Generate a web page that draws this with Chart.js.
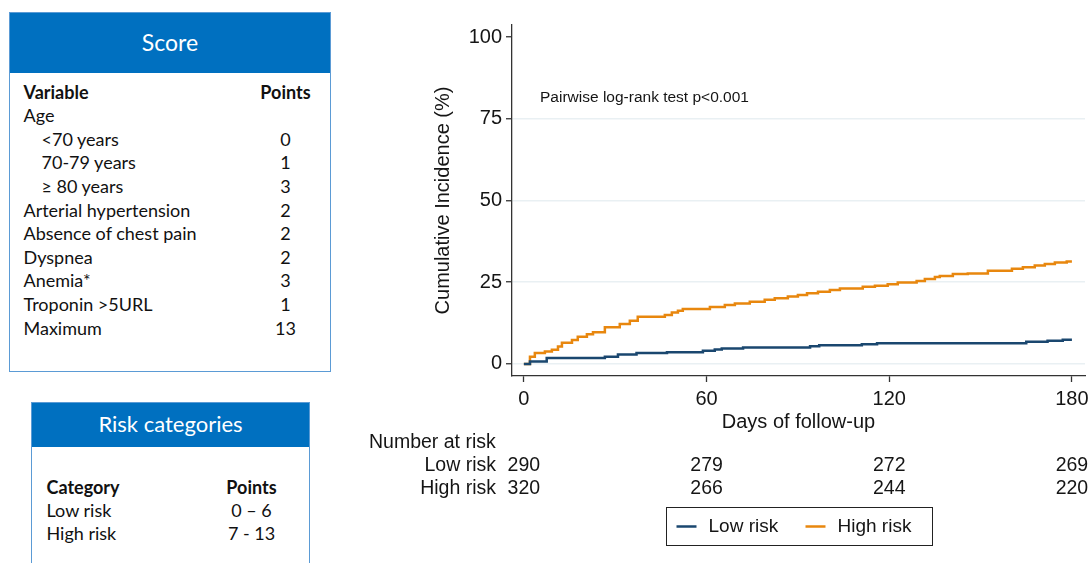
<!DOCTYPE html>
<html>
<head>
<meta charset="utf-8">
<script src="https://cdn.jsdelivr.net/npm/chart.js@4.4.1/dist/chart.umd.min.js"></script>
<style>
  html, body { margin: 0; padding: 0; background: #fff; width: 1091px; height: 563px; overflow: hidden; }
  .box { position: absolute; box-sizing: border-box; border: 1.5px solid #5b9bd5; background: #fff;
         font-family: Lato, "Open Sans", sans-serif; color: #111; }
  .hdr { position: absolute; left: 0; right: 0; top: 0; background: #0070c0; color: #fff;
         text-align: center; }
  .cell { position: absolute; font-size: 18px; line-height: 24px; height: 24px; white-space: nowrap; }
  .num { text-align: center; width: 60px; }
  .bold { font-weight: bold; }
  #chartWrap { position: absolute; left: 340px; top: 0; width: 751px; height: 563px; }
</style>
</head>
<body>
<div class="box" id="scoreBox" style="left:9px; top:12px; width:322px; height:360px;">
  <div class="hdr" style="height:60px; line-height:58px; font-size:23px;">Score</div>
</div>
<div class="box" id="riskBox" style="left:31px; top:402px; width:279px; height:200px;">
  <div class="hdr" style="height:44px; line-height:42px; font-size:22px;">Risk categories</div>
</div>
<div id="chartWrap"><canvas id="km" width="751" height="563"></canvas></div>

<script>
// ---- Score table ----
const ageBands = ['<70 years', '70-79 years', '\u2265 80 years'];
const agePoints = ['0', '1', '3'];
const otherVariables = ['Arterial hypertension', 'Absence of chest pain', 'Dyspnea', 'Anemia*', 'Troponin >5URL', 'Maximum'];
const otherPoints = ['2', '2', '2', '3', '1', '13'];

// ---- Risk categories ----
const riskCategories = ['Low risk', 'High risk'];
const riskPointRanges = ['0 \u2013 6', '7 - 13'];

// ---- Cumulative incidence (%) by day of follow-up ----
const lowRiskDays = [0, 2, 7.5, 26.6, 30.9, 37, 47, 58.8, 62.7, 65, 72, 94, 97, 111, 116, 165, 172, 177, 180];
const lowRiskIncidence = [0, 0.7, 1.8, 2.2, 2.9, 3.3, 3.6, 4.0, 4.4, 4.7, 5.0, 5.4, 5.7, 6.0, 6.3, 6.8, 7.1, 7.4, 7.4];

const highRiskDays = [0, 2, 3.6, 6.9, 9.2, 11.2, 12.5, 15.8, 17.7, 20.7, 22.7, 26.6, 31.5, 34.8, 37.4, 46.3, 48.6, 50.6,
  52.2, 61.1, 66, 69.3, 74.2, 79.1, 82.4, 86.7, 90, 93, 96.6, 100.5, 103.8, 111.3, 115.3, 119.5, 122.8, 129, 131.7,
  135, 136.6, 140.9, 145.8, 152.4, 160.3, 163.9, 167.8, 171.1, 174.4, 178.3, 180];
const highRiskIncidence = [0, 2.2, 3.3, 3.8, 4.3, 5.3, 6.5, 7.3, 8.3, 9.1, 9.7, 11.2, 12.2, 13.2, 14.4, 15.0, 15.7, 16.3,
  16.8, 17.4, 18.0, 18.5, 19.0, 19.6, 20.1, 20.6, 21.1, 21.6, 22.1, 22.6, 23.1, 23.6, 23.9, 24.4, 24.9, 25.4, 26.0,
  26.6, 26.9, 27.5, 27.7, 28.5, 29.1, 29.6, 30.1, 30.6, 31.0, 31.3, 31.3];

// ---- Axes and number at risk ----
const dayTicks = [0, 60, 120, 180];
const incidenceTicks = [0, 25, 50, 75, 100];
const riskTableDays = [0, 60, 120, 180];
const lowRiskAtRisk = [290, 279, 272, 269];
const highRiskAtRisk = [320, 266, 244, 220];
const testLabel = 'Pairwise log-rank test p<0.001';

const LOW_COLOR = '#1a476f';
const HIGH_COLOR = '#e8870e';
const INK = '#151515';
const SANS = '"Liberation Sans", Arial, sans-serif';

// Build the two side tables
function addCell(parent, text, left, centerY, cls) {
  const d = document.createElement('div');
  d.className = 'cell ' + (cls || '');
  d.textContent = text;
  d.style.left = left + 'px';
  d.style.top = (centerY - 12) + 'px';
  parent.appendChild(d);
  return d;
}
(function buildScore() {
  const box = document.getElementById('scoreBox');
  const ox = 10.5, oy = 13.5;               // inner origin of the box
  const rowY = i => 92 + i * 23.6 - oy;
  const numLeft = 286 - 30 - ox;
  addCell(box, 'Variable', 24 - ox, rowY(0), 'bold');
  addCell(box, 'Points', numLeft, rowY(0), 'bold num');
  addCell(box, 'Age', 24 - ox, rowY(1));
  ageBands.forEach((t, i) => {
    addCell(box, t, 42 - ox, rowY(2 + i));
    addCell(box, agePoints[i], numLeft, rowY(2 + i), 'num');
  });
  otherVariables.forEach((t, i) => {
    addCell(box, t, 24 - ox, rowY(5 + i));
    addCell(box, otherPoints[i], numLeft, rowY(5 + i), 'num');
  });
})();
(function buildRisk() {
  const box = document.getElementById('riskBox');
  const ox = 32.5, oy = 403.5;
  const numLeft = 252 - 30 - ox;
  addCell(box, 'Category', 47 - ox, 487 - oy, 'bold');
  addCell(box, 'Points', numLeft, 487 - oy, 'bold num');
  riskCategories.forEach((t, i) => {
    addCell(box, t, 47 - ox, 510 + i * 23 - oy);
    addCell(box, riskPointRanges[i], numLeft, 510 + i * 23 - oy, 'num');
  });
})();

// Text drawn around the plot: test result, number-at-risk table, legend
const kmExtras = {
  id: 'kmExtras',
  afterDraw(chart) {
    const { ctx, scales: { x, y }, chartArea } = chart;
    ctx.save();
    ctx.fillStyle = INK;
    ctx.textBaseline = 'middle';

    ctx.font = '15.5px ' + SANS;
    ctx.textAlign = 'left';
    ctx.fillText(testLabel, x.getPixelForValue(5.3), y.getPixelForValue(81.6));

    ctx.font = '19.5px ' + SANS;
    ctx.fillText('Number at risk', 29, 443);
    ctx.textAlign = 'right';
    ctx.fillText('Low risk', 156, 466);
    ctx.fillText('High risk', 156, 489);
    ctx.textAlign = 'center';
    riskTableDays.forEach((d, i) => {
      const px = x.getPixelForValue(d);
      ctx.fillText(String(lowRiskAtRisk[i]), px, 466);
      ctx.fillText(String(highRiskAtRisk[i]), px, 489);
    });

    // legend
    ctx.font = '19px ' + SANS;
    const cx = (chartArea.left + chartArea.right) / 2;
    const bx = Math.round(cx - 133) + 0.5, by = 507.5, bw = 266, bh = 38;
    ctx.strokeStyle = '#222';
    ctx.lineWidth = 1;
    ctx.strokeRect(bx, by, bw, bh);
    const items = [
      { label: chart.data.datasets[0].label, color: chart.data.datasets[0].borderColor, x0: bx + 10 },
      { label: chart.data.datasets[1].label, color: chart.data.datasets[1].borderColor, x0: bx + 139 }
    ];
    ctx.textAlign = 'left';
    ctx.lineWidth = 2.5;
    items.forEach(it => {
      ctx.strokeStyle = it.color;
      ctx.beginPath();
      ctx.moveTo(it.x0, by + bh / 2);
      ctx.lineTo(it.x0 + 20, by + bh / 2);
      ctx.stroke();
      ctx.fillText(it.label, it.x0 + 32, by + bh / 2 + 0.5);
    });
    ctx.restore();
  }
};

new Chart(document.getElementById('km'), {
  type: 'line',
  data: {
    datasets: [
      { label: 'Low risk', data: lowRiskDays.map((d, i) => ({ x: d, y: lowRiskIncidence[i] })),
        borderColor: LOW_COLOR, borderWidth: 2.5, stepped: true, pointRadius: 0, fill: false },
      { label: 'High risk', data: highRiskDays.map((d, i) => ({ x: d, y: highRiskIncidence[i] })),
        borderColor: HIGH_COLOR, borderWidth: 2.5, stepped: true, pointRadius: 0, fill: false }
    ]
  },
  options: {
    responsive: false,
    animation: false,
    devicePixelRatio: 1,
    layout: { padding: { left: 0, right: 6, top: 25, bottom: 0 } },
    plugins: { legend: { display: false }, tooltip: { enabled: false } },
    scales: {
      x: {
        type: 'linear', min: -3.9, max: 184.3,
        afterBuildTicks: s => { s.ticks = dayTicks.map(v => ({ value: v })); },
        afterFit: s => { s.height = 187; s.paddingLeft = 0; s.paddingRight = 0; },
        grid: { drawOnChartArea: false, drawTicks: true, tickLength: 6, tickColor: '#333', tickWidth: 1.3 },
        border: { display: true, color: '#333', width: 1.3 },
        ticks: { font: { family: SANS, size: 20 }, color: INK, padding: 5, maxRotation: 0, autoSkip: false },
        title: { display: true, text: 'Days of follow-up', color: INK, font: { family: SANS, size: 20 },
                 padding: { top: 0, bottom: 129 } }
      },
      y: {
        type: 'linear', min: -3.7, max: 103.7,
        afterBuildTicks: s => { s.ticks = incidenceTicks.map(v => ({ value: v })); },
        afterFit: s => { s.width = 172; s.paddingTop = 0; s.paddingBottom = 0; },
        grid: {
          color: c => (c.tick && c.tick.value === 100) ? 'rgba(0,0,0,0)' : '#e9f0f3',
          lineWidth: 1.5, drawTicks: true, tickLength: 6, tickColor: '#333', tickWidth: 1.3
        },
        border: { display: true, color: '#333', width: 1.3 },
        ticks: { font: { family: SANS, size: 20 }, color: INK, padding: 4, autoSkip: false },
        title: { display: true, text: 'Cumulative Incidence (%)', color: INK, font: { family: SANS, size: 20 },
                 padding: { top: 91, bottom: 0 } }
      }
    }
  },
  plugins: [kmExtras]
});
</script>
</body>
</html>
